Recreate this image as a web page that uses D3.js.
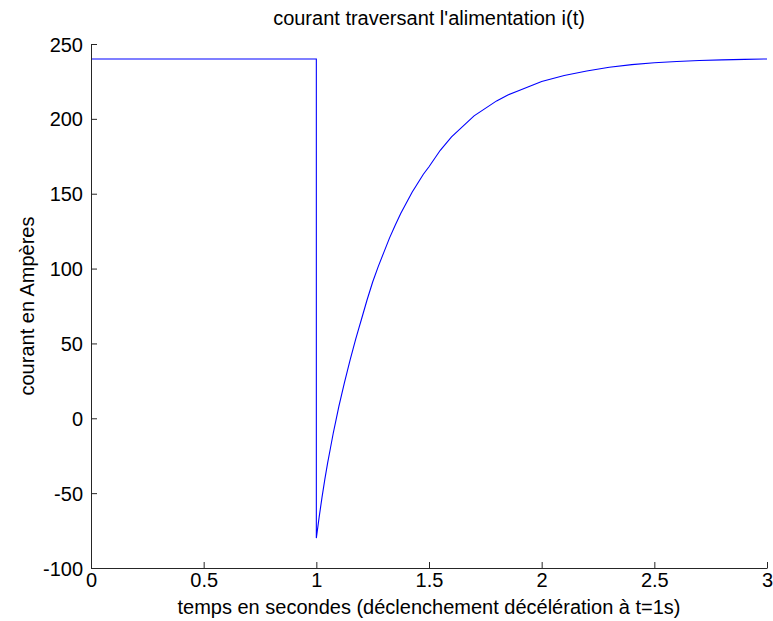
<!DOCTYPE html>
<html>
<head>
<meta charset="utf-8">
<script src="https://cdn.jsdelivr.net/npm/d3@7"></script>
<style>
  html, body { margin: 0; padding: 0; background: #fff; }
  svg { display: block; }
  text { font-family: "Liberation Sans", Arial, Helvetica, sans-serif; fill: #000; }
</style>
</head>
<body>
<svg id="chart" width="773" height="621"></svg>
<script>
// ---- data ----
const timeValues = [0, 1, 1, 1.0125, 1.025, 1.0375, 1.05, 1.0625, 1.075, 1.0875, 1.10, 1.1125, 1.125, 1.1375, 1.15, 1.1625, 1.175, 1.1875, 1.20, 1.225, 1.25, 1.275, 1.30, 1.325, 1.35, 1.375, 1.40, 1.425, 1.45, 1.475, 1.50, 1.55, 1.60, 1.65, 1.70, 1.75, 1.80, 1.85, 1.90, 1.95, 2.00, 2.10, 2.20, 2.30, 2.40, 2.50, 2.60, 2.70, 2.80, 2.90, 3.00];
const currentValues = [240, 240, -80, -66, -53, -41, -30, -20, -10, -1, 8, 16, 24, 31.5, 39, 46, 53, 59.5, 66, 79, 91, 101.5, 111, 120.5, 129, 137, 144, 151, 157, 163, 168, 179, 188, 195, 202, 207, 212, 216, 219, 222, 225, 229, 232, 234.5, 236.2, 237.5, 238.3, 239, 239.4, 239.7, 240];
const xTicks = [0, 0.5, 1, 1.5, 2, 2.5, 3];
const yTicks = [-100, -50, 0, 50, 100, 150, 200, 250];
const titleText = "courant traversant l'alimentation i(t)";
const xLabelText = "temps en secondes (déclenchement décélération à t=1s)";
const yLabelText = "courant en Ampères";

// ---- layout ----
const svg = d3.select("#chart");
const mLeft = 91, mRight = 767, mTop = 44, mBottom = 568;
const fontSize = 20;

const x = d3.scaleLinear().domain([0, 3]).range([mLeft, mRight]);
const y = d3.scaleLinear().domain([-100, 250]).range([mBottom, mTop]);

const data = timeValues.map((t, i) => ({ t, v: currentValues[i] }));

// line
const line = d3.line().x(d => x(d.t)).y(d => y(d.v));
svg.append("path")
  .datum(data)
  .attr("d", line)
  .attr("fill", "none")
  .attr("stroke", "#0000ff")
  .attr("stroke-width", 1.1);

// axes (ticks pointing inward, MATLAB style)
const xAxis = d3.axisBottom(x).tickValues(xTicks).tickSizeInner(-6).tickSizeOuter(0)
  .tickPadding(5).tickFormat(d => String(d));
const yAxis = d3.axisLeft(y).tickValues(yTicks).tickSizeInner(-6).tickSizeOuter(0)
  .tickPadding(8).tickFormat(d => String(d));

const gx = svg.append("g").attr("transform", `translate(0,${mBottom})`).call(xAxis);
const gy = svg.append("g").attr("transform", `translate(${mLeft},0)`).call(yAxis);

[gx, gy].forEach(g => {
  g.select(".domain").attr("stroke", "#262626").attr("stroke-width", 1);
  g.selectAll(".tick line").attr("stroke", "#262626");
  g.selectAll(".tick text").attr("font-size", fontSize)
    .attr("font-family", "Liberation Sans, Arial, sans-serif").attr("fill", "#000");
});
gx.selectAll(".tick text").attr("dy", "0.72em");
gy.selectAll(".tick text").attr("dx", "0").attr("dy", "0.35em");

// title
svg.append("text")
  .attr("x", (mLeft + mRight) / 2).attr("y", 25)
  .attr("text-anchor", "middle").attr("font-size", fontSize)
  .text(titleText);

// x label
svg.append("text")
  .attr("x", (mLeft + mRight) / 2).attr("y", 614)
  .attr("text-anchor", "middle").attr("font-size", fontSize)
  .text(xLabelText);

// y label
svg.append("text")
  .attr("transform", `translate(34,${(mTop + mBottom) / 2}) rotate(-90)`)
  .attr("text-anchor", "middle").attr("font-size", fontSize)
  .text(yLabelText);
</script>
</body>
</html>
